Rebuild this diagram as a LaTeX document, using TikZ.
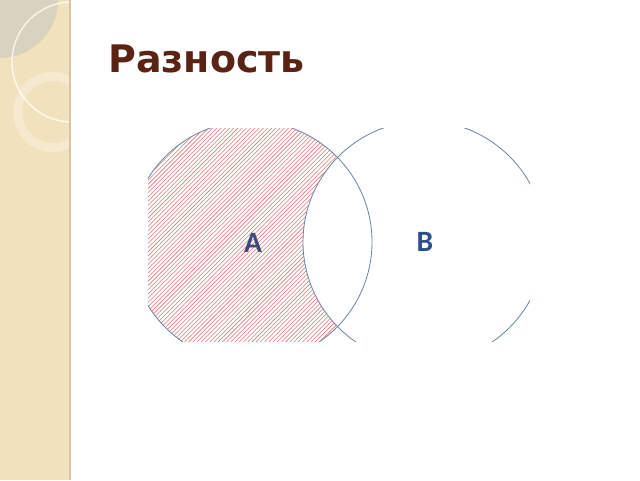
\documentclass[tikz,border=0pt]{standalone}
\usepackage{fontspec}
\newfontfamily\titlefont{DejaVu Sans}
\newfontfamily\labelfont{Carlito}
\usetikzlibrary{patterns}
\definecolor{strip}{HTML}{F1E2BD}
\definecolor{stripedge}{HTML}{D6C6A0}
\definecolor{lens}{HTML}{D9D2BF}
\definecolor{titlebrown}{HTML}{5A2414}
\definecolor{hatch}{HTML}{E07A7A}
\definecolor{edge}{HTML}{7088A4}
\definecolor{labA}{HTML}{3B4B7E}
\definecolor{labB}{HTML}{2E4E8C}
\begin{document}
\begin{tikzpicture}[set/.style={draw=edge,line width=.6pt},
  letter/.style={font=\labelfont\bfseries\fontsize{21}{25}\selectfont}]
\useasboundingbox (0,0) rectangle (16,12);
\fill[white] (0,0) rectangle (16,12);
% left strip
\begin{scope}
\clip (0,0) rectangle (1.75,12);
\fill[strip] (0,0) rectangle (1.75,12);
\fill[lens] (0,12) circle (1.45);
\draw[white,opacity=.8,line width=1pt] (1.8,10.45) circle (1.5);
\fill[white,opacity=.3,even odd rule] (1.325,9.2) circle (1) (1.325,9.2) circle (.775);
\end{scope}
\draw[stripedge,line width=1.5pt] (1.75,0)--(1.75,12);
\node[anchor=base west,inner sep=0pt,text=titlebrown,
  font=\titlefont\bfseries\fontsize{27}{32}\selectfont] (title) at (2.7,10.175) {Разность};
% A \ B
\begin{scope}
\clip (3.7,3.475) rectangle (13.25,8.8);
\fill[pattern=north east lines,pattern color=hatch] (6.275,5.95) circle (3.025);
\fill[white] (10.6,5.95) circle (3.025);
\draw[set] (6.275,5.95) circle (3.025);
\draw[set] (10.6,5.95) circle (3.025);
\end{scope}
\node[letter,text=labA] (labelA) at (6.325,5.925) {A};
\node[letter,text=labB] (labelB) at (10.625,5.95) {B};
\end{tikzpicture}
\end{document}
